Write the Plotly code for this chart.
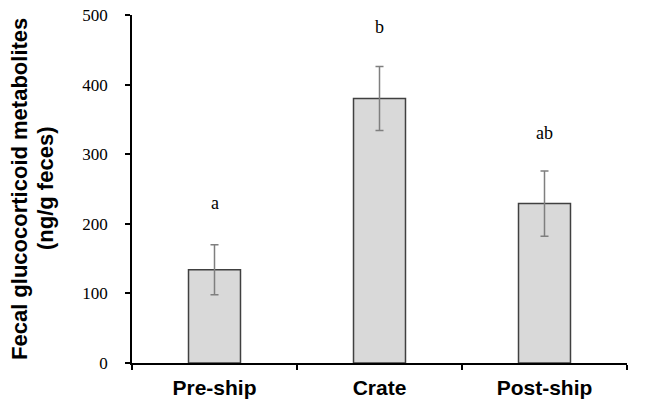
import plotly.graph_objects as go

categories = ["Pre-ship", "Crate", "Post-ship"]
means = [134, 380, 229]
errors = [36, 46, 47]
letters = ["a", "b", "ab"]
letter_y = [230, 483, 330]
title_lines = ["Fecal glucocorticoid metabolites", "(ng/g feces)"]

L, R, T, B = 132, 23, 15, 39
W, H = 650, 402
pw, ph = W - L - R, H - T - B

fig = go.Figure()
fig.add_trace(go.Bar(
    x=categories, y=means, width=0.315,
    marker=dict(color="#d9d9d9", line=dict(color="#404040", width=1.5)),
    error_y=dict(type="data", array=errors, color="#7f7f7f", thickness=1.5, width=4),
    showlegend=False,
))
for c, l, ly in zip(categories, letters, letter_y):
    fig.add_annotation(x=c, y=ly, text=l, showarrow=False,
                       font=dict(family="Liberation Serif", size=18, color="black"),
                       xanchor="center", yanchor="middle")

# y-axis title as two rotated lines
for px, txt in zip([19, 45], title_lines):
    fig.add_annotation(xref="paper", yref="paper",
                       x=(px - L) / pw, y=(H - B - 189) / ph,
                       text=txt, textangle=-90, showarrow=False,
                       xanchor="center", yanchor="middle",
                       font=dict(family="Liberation Sans", size=22, color="black", weight="bold"))

fig.update_layout(
    width=W, height=H,
    margin=dict(l=L, r=R, t=T, b=B, autoexpand=False),
    plot_bgcolor="white", paper_bgcolor="white",
    xaxis=dict(
        showline=True, linecolor="black", linewidth=1.5,
        ticks="outside", tickson="boundaries", ticklen=5, tickcolor="black", tickwidth=1.5,
        tickfont=dict(family="Liberation Sans", size=21, color="black", weight="bold"),
        showgrid=False, ticklabelstandoff=5,
    ),
    yaxis=dict(
        range=[0, 500], tickvals=[0, 100, 200, 300, 400, 500],
        showline=True, linecolor="black", linewidth=1.5,
        ticks="outside", ticklen=5, tickcolor="black", tickwidth=1.5,
        tickfont=dict(family="Liberation Serif", size=17, color="black"),
        showgrid=False, zeroline=False, ticklabelstandoff=14,
    ),
)
fig.write_html("out.html", config={"displayModeBar": False},
               post_script="document.body.style.margin='0';")
